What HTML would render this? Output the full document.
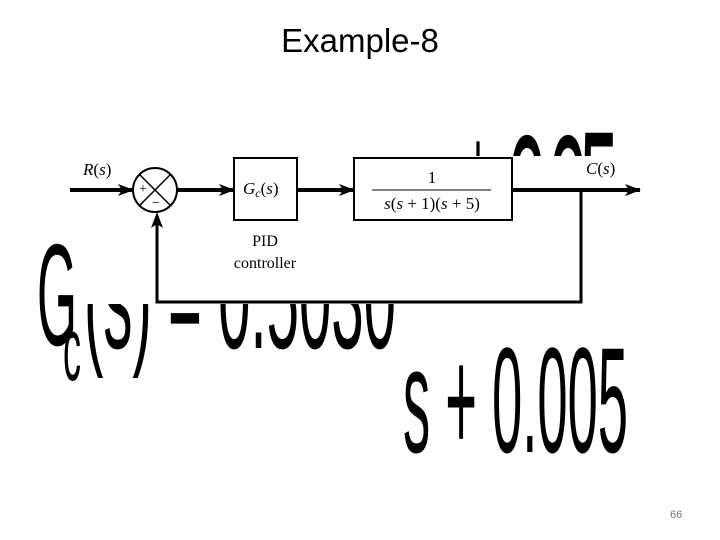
<!DOCTYPE html>
<html><head><meta charset="utf-8"><style>
html,body{margin:0;padding:0;background:#fff}
svg{display:block}
</style></head><body>
<svg width="720" height="540" viewBox="0 0 720 540" xmlns="http://www.w3.org/2000/svg">
<defs>
<clipPath id="topc"><rect x="400" y="100" width="260" height="56"/></clipPath>
<marker id="ah" markerWidth="16" markerHeight="12" refX="15" refY="6" orient="auto" markerUnits="userSpaceOnUse">
<path d="M0,0 L16,6 L0,12 L4,6 Z" fill="#000"/></marker>
</defs>
<rect width="720" height="540" fill="#fff"/>
<text x="360" y="52" text-anchor="middle" font-family="Liberation Sans, sans-serif" font-size="33" fill="#000">Example-8</text>

<g font-family="Liberation Sans, sans-serif" fill="#000">
<g clip-path="url(#topc)">
<text transform="translate(478,228) scale(0.3,1)" text-anchor="middle" font-size="150">+</text>
<text transform="translate(527,264) scale(0.38,1)" text-anchor="middle" font-size="185">0</text>
<text transform="translate(568,264) scale(0.38,1)" text-anchor="middle" font-size="185">0</text>
<text transform="translate(599,260) scale(0.38,1)" text-anchor="middle" font-size="185">5</text>
</g>
<text x="37" y="345" font-size="145" textLength="40" lengthAdjust="spacingAndGlyphs">G</text>
<text x="63" y="380" font-size="90" textLength="18" lengthAdjust="spacingAndGlyphs">c</text>
<text x="84" y="348" font-size="145" textLength="312" lengthAdjust="spacingAndGlyphs">(s) = 0.5030</text>
<text x="403" y="452" font-size="150" textLength="225" lengthAdjust="spacingAndGlyphs">s + 0.005</text>
</g>
<rect x="77" y="156" width="565" height="148" fill="#fff"/>

<g stroke="#000" fill="none">
<line x1="70" y1="190" x2="133" y2="190" stroke-width="4" marker-end="url(#ah)"/>
<circle cx="155" cy="190" r="22" stroke-width="2"/>
<line x1="139.4" y1="174.4" x2="170.6" y2="205.6" stroke-width="1.5"/>
<line x1="170.6" y1="174.4" x2="139.4" y2="205.6" stroke-width="1.5"/>
<line x1="177" y1="190" x2="234" y2="190" stroke-width="4" marker-end="url(#ah)"/>
<rect x="234" y="158" width="63" height="62" stroke-width="2"/>
<line x1="297" y1="190" x2="354" y2="190" stroke-width="4" marker-end="url(#ah)"/>
<rect x="354" y="158" width="158" height="62" stroke-width="2"/>
<line x1="512" y1="190" x2="640" y2="190" stroke-width="4" marker-end="url(#ah)"/>
<polyline points="581,190 581,302 157,302 157,224" stroke-width="3"/>
<line x1="372" y1="190" x2="491" y2="190" stroke-width="1"/>
</g>
<path d="M157,212 L151,228 L157,224 L163,228 Z" fill="#000"/>
<g font-family="Liberation Serif, serif" fill="#000" font-size="17">
<text x="83" y="175"><tspan font-style="italic">R</tspan>(<tspan font-style="italic">s</tspan>)</text>
<text x="586" y="174"><tspan font-style="italic">C</tspan>(<tspan font-style="italic">s</tspan>)</text>
<text x="243" y="194"><tspan font-style="italic">G</tspan><tspan font-style="italic" font-size="12" dy="3">c</tspan><tspan dy="-3">(</tspan><tspan font-style="italic">s</tspan>)</text>
<text x="432" y="183" text-anchor="middle">1</text>
<text x="432" y="209" text-anchor="middle"><tspan font-style="italic">s</tspan>(<tspan font-style="italic">s</tspan> + 1)(<tspan font-style="italic">s</tspan> + 5)</text>
<text x="265" y="246" text-anchor="middle" font-size="16">PID</text>
<text x="265" y="268" text-anchor="middle" font-size="16">controller</text>
<text x="143" y="193" font-size="14" text-anchor="middle">+</text>
<text x="156" y="207" font-size="14" text-anchor="middle">−</text>
</g>
<text x="670" y="518" font-family="Liberation Sans, sans-serif" font-size="11" fill="#777">66</text>
</svg>
</body></html>
